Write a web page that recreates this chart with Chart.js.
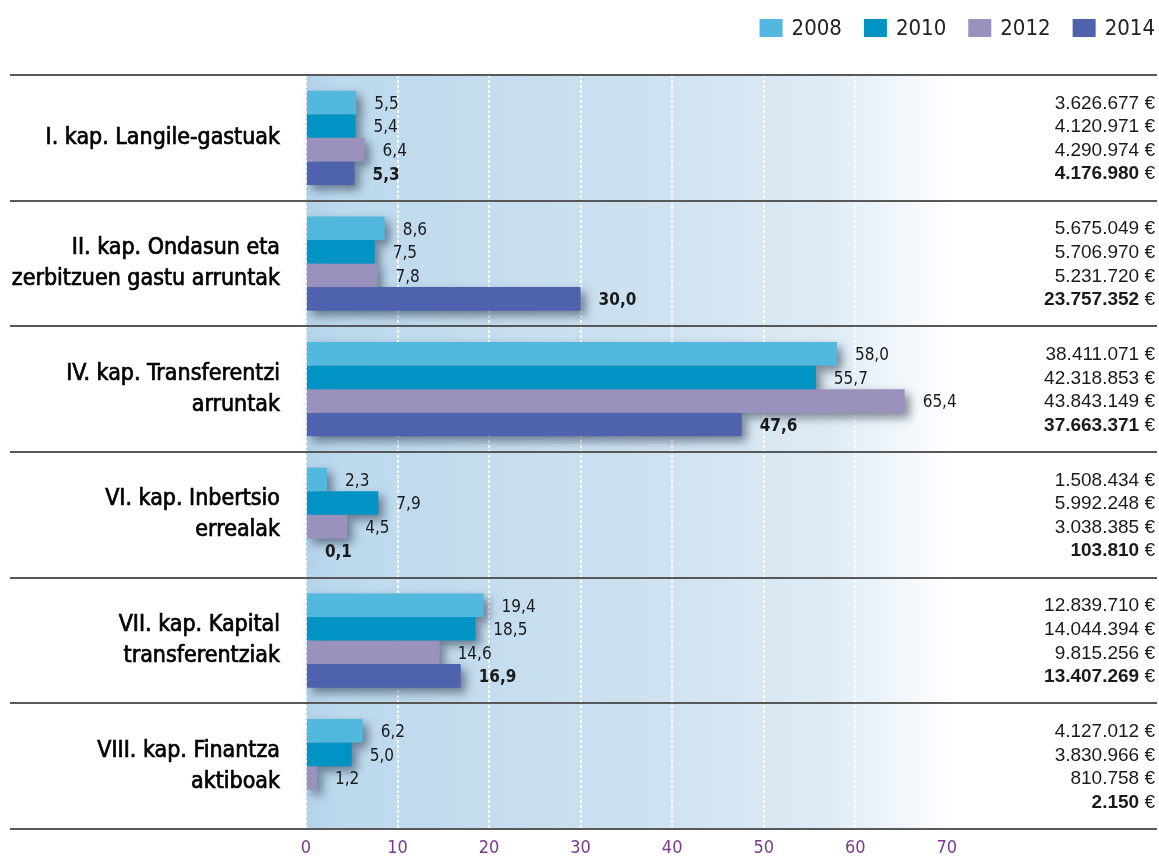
<!DOCTYPE html>
<html>
<head>
<meta charset="utf-8">
<script src="https://cdn.jsdelivr.net/npm/chart.js@4"></script>
<style>
  html, body { margin: 0; padding: 0; background: #fff; }
  #wrap { width: 1159px; height: 858px; position: relative; }
</style>
</head>
<body>
<div id="wrap"><canvas id="chart"></canvas></div>
<script>
const categories = [
    ['I. kap. Langile-gastuak'],
    ['II. kap. Ondasun eta', 'zerbitzuen gastu arruntak'],
    ['IV. kap. Transferentzi', 'arruntak'],
    ['VI. kap. Inbertsio', 'errealak'],
    ['VII. kap. Kapital', 'transferentziak'],
    ['VIII. kap. Finantza', 'aktiboak']
];
const years = ['2008', '2010', '2012', '2014'];

// ehunekoak (barrak)
const pct2008 = [5.5, 8.6, 58.0, 2.3, 19.4, 6.2];
const pct2010 = [5.4, 7.5, 55.7, 7.9, 18.5, 5.0];
const pct2012 = [6.4, 7.8, 65.4, 4.5, 14.6, 1.2];
const pct2014 = [5.3, 30.0, 47.6, 0.1, 16.9, null];

// eurotan (eskuineko zutabea)
const eur2008 = [3626677, 5675049, 38411071, 1508434, 12839710, 4127012];
const eur2010 = [4120971, 5706970, 42318853, 5992248, 14044394, 3830966];
const eur2012 = [4290974, 5231720, 43843149, 3038385, 9815256, 810758];
const eur2014 = [4176980, 23757352, 37663371, 103810, 13407269, 2150];

const xTicks = [0, 10, 20, 30, 40, 50, 60, 70];

const colors = ['#52b8de', '#0093c4', '#9a92bd', '#4f62ae'];
const NARROW = "'Liberation Sans Narrow', 'DejaVu Sans Condensed', sans-serif";
const WIDE = "'Liberation Sans', Arial, sans-serif";

const pctSeries = [pct2008, pct2010, pct2012, pct2014];
const eurSeries = [eur2008, eur2010, eur2012, eur2014];

const fmtEur = (n) => String(n).replace(/\B(?=(\d{3})+(?!\d))/g, '.');
const fmtPct = (v) => v.toFixed(1).replace('.', ',');

// atzeko gradientea
const backdrop = {
    id: 'backdrop',
    beforeDraw(chart) {
        const {ctx, chartArea} = chart;
        const xs = chart.scales.x;
        const right = xs.getPixelForValue(71);
        const g = ctx.createLinearGradient(chartArea.left, 0, right, 0);
        g.addColorStop(0, '#b3d3ea');
        g.addColorStop(0.05, '#bcd9ed');
        g.addColorStop(0.5, '#cce1f0');
        g.addColorStop(0.8, '#deebf5');
        g.addColorStop(1, '#ffffff');
        ctx.save();
        ctx.fillStyle = g;
        ctx.fillRect(chartArea.left, chartArea.top, right - chartArea.left, chartArea.bottom - chartArea.top);
        ctx.restore();
    }
};

// lerro bereizleak, itzalak, etiketak eta legenda
const separators = {
    id: 'separators',
    beforeDatasetsDraw(chart) {
        const {ctx, chartArea} = chart;
        const ys = chart.scales.y;
        ctx.save();
        ctx.strokeStyle = '#585858';
        ctx.lineWidth = 2;
        for (let i = 0; i <= categories.length; i++) {
            let y;
            if (i === 0) y = chartArea.top;
            else if (i === categories.length) y = chartArea.bottom;
            else y = (ys.getPixelForValue(i - 1) + ys.getPixelForValue(i)) / 2;
            ctx.beginPath();
            ctx.moveTo(10, Math.round(y));
            ctx.lineTo(1157, Math.round(y));
            ctx.stroke();
        }

        // itzalak
        const far = 5000;
        ctx.shadowColor = 'rgba(20,30,50,0.5)';
        ctx.shadowBlur = 10;
        ctx.shadowOffsetX = far + 5;
        ctx.shadowOffsetY = 5;
        ctx.fillStyle = '#000';
        chart.data.datasets.forEach((ds, di) => {
            chart.getDatasetMeta(di).data.forEach((el, i) => {
                if (ds.data[i] == null) return;
                const p = el.getProps(['x', 'y', 'base', 'height'], true);
                ctx.fillRect(p.base - far, p.y - p.height / 2, p.x - p.base, p.height);
            });
        });
        ctx.restore();
    },
    afterDatasetsDraw(chart) {
        const {ctx} = chart;
        ctx.save();
        ctx.textBaseline = 'middle';
        chart.data.datasets.forEach((ds, di) => {
            const bold = di === years.length - 1;
            chart.getDatasetMeta(di).data.forEach((el, i) => {
                const p = el.getProps(['x', 'y'], true);
                const v = ds.data[i];
                if (v != null) {
                    ctx.fillStyle = '#1a1a1a';
                    ctx.textAlign = 'left';
                    ctx.font = (bold ? 'bold ' : '') + '17px ' + NARROW;
                    ctx.fillText(fmtPct(v), p.x + 18, p.y + 2);
                }
                // euro zutabea
                const eur = eurSeries[di][i];
                const right = 1155;
                ctx.textAlign = 'right';
                ctx.fillStyle = '#1a1a1a';
                ctx.font = '19px ' + WIDE;
                const suffix = ' €';
                ctx.fillText(suffix, right, p.y + 1);
                const sw = ctx.measureText(suffix).width;
                ctx.font = (bold ? 'bold ' : '') + '19px ' + WIDE;
                ctx.fillText(fmtEur(eur), right - sw, p.y + 1);
            });
        });
        ctx.restore();
    },
    afterDraw(chart) {
        // legenda
        const {ctx} = chart;
        ctx.save();
        ctx.font = '22px ' + NARROW;
        ctx.textBaseline = 'middle';
        ctx.textAlign = 'left';
        let x = 1155;
        const cy = 28;
        for (let i = years.length - 1; i >= 0; i--) {
            const tw = ctx.measureText(years[i]).width;
            const tx = x - tw;
            ctx.fillStyle = '#222';
            ctx.fillText(years[i], tx, cy + 1);
            const bx = tx - 9 - 23;
            ctx.fillStyle = colors[i];
            ctx.fillRect(bx, cy - 9, 23, 18);
            x = bx - 22;
        }
        ctx.restore();
    }
};

new Chart(document.getElementById('chart'), {
    type: 'bar',
    data: {
        labels: categories,
        datasets: years.map((y, i) => ({
            label: y,
            data: pctSeries[i],
            backgroundColor: colors[i],
            borderWidth: 0,
            categoryPercentage: 0.75,
            barPercentage: 1.0
        }))
    },
    options: {
        indexAxis: 'y',
        responsive: true,
        maintainAspectRatio: false,
        animation: false,
        layout: { padding: { top: 75, right: 4, bottom: 0, left: 0 } },
        plugins: {
            legend: { display: false },
            tooltip: { enabled: false }
        },
        scales: {
            x: {
                min: 0,
                max: 92.75,
                afterBuildTicks(scale) {
                    scale.ticks = xTicks.map(v => ({ value: v }));
                },
                afterFit(scale) {
                    scale.height = 29;
                    scale.paddingLeft = 0;
                    scale.paddingRight = 0;
                },
                ticks: {
                    color: '#7b3a8e',
                    font: { family: NARROW, size: 18 },
                    padding: 9,
                    callback: (v) => v
                },
                grid: {
                    color: 'rgba(255,255,255,0.95)',
                    lineWidth: 2,
                    drawTicks: false
                },
                border: { display: false, dash: [3, 2] }
            },
            y: {
                afterFit(scale) {
                    scale.width = 306;
                    scale.paddingTop = 0;
                    scale.paddingBottom = 0;
                },
                ticks: {
                    color: '#000',
                    font: { family: NARROW, size: 23, lineHeight: 1.35 },
                    padding: 26,
                    crossAlign: 'near',
                    textStrokeColor: '#000',
                    textStrokeWidth: 0.7
                },
                grid: { display: false, drawTicks: false },
                border: { display: false }
            }
        }
    },
    plugins: [backdrop, separators]
});
</script>
</body>
</html>
